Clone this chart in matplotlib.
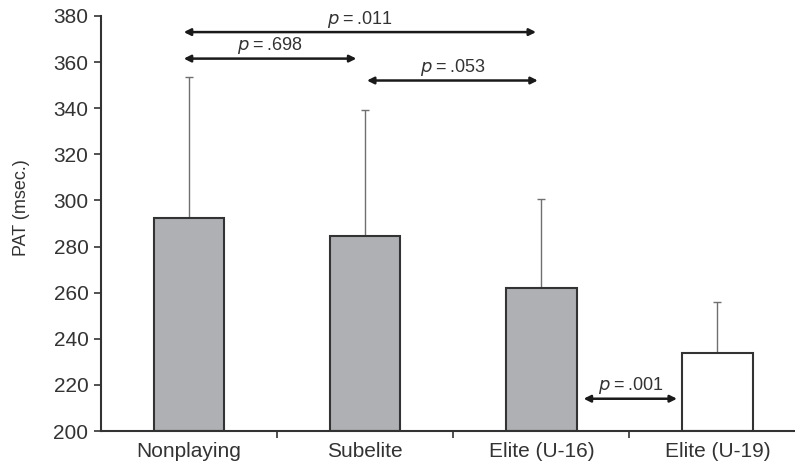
import matplotlib.pyplot as plt

plt.rcParams['font.family'] = ['Liberation Sans', 'DejaVu Sans']

# group means and upper SD ends
groups = ['Nonplaying', 'Subelite', 'Elite (U-16)', 'Elite (U-19)']
means = [292.5, 284.5, 262, 234]
sd = [61, 54.5, 38.5, 22]
fills = ['#afb0b3', '#afb0b3', '#afb0b3', 'white']

# comparisons: (from, to, y, label)
comparisons = [
    (-0.03, 1.97, 373, '.011'),
    (-0.03, 0.95, 361.5, '.698'),
    (1.01, 1.98, 352, '.053'),
    (2.24, 2.77, 214, '.001'),
]

ink = '#333333'

fig = plt.figure(figsize=(7.95, 4.69), dpi=100)
ax = fig.add_axes([0.127, 0.081, 0.873, 0.885])

x = list(range(len(groups)))
ax.bar(x, [m - 200 for m in means], bottom=200, width=0.4,
       color=fills, edgecolor=ink, linewidth=1.5, zorder=2)
ax.errorbar(x, means, yerr=[[0] * 4, sd], fmt='none', ecolor='#707070',
            elinewidth=1, capsize=3, capthick=1, zorder=1)

for x0, x1, y, lab in comparisons:
    ax.annotate('', xy=(x1, y), xytext=(x0, y),
                arrowprops=dict(arrowstyle='<|-|>', color='#1a1a1a', lw=1.8,
                                mutation_scale=10, shrinkA=0, shrinkB=0))
    ax.text((x0 + x1) / 2, y + 3.6, r'$\it{p}$' + '\u2009=\u2009' + lab,
            ha='center', va='baseline', fontsize=13, color=ink)

ax.set_xlim(-0.5, 3.44)
ax.set_ylim(200, 380)
ax.set_yticks(range(200, 381, 20))
ax.set_xticks(x)
ax.set_xticklabels(groups)
ax.set_xticks([0.5, 1.5, 2.5], minor=True)
ax.tick_params(axis='x', which='major', length=0, pad=8, labelsize=15, labelcolor=ink)
ax.tick_params(axis='x', which='minor', length=5, width=1.2, color=ink)
ax.tick_params(axis='y', length=5, width=1.2, pad=4, color=ink, labelsize=15, labelcolor=ink)
ax.set_ylabel('PAT (msec.)', fontsize=13, color=ink)
ax.yaxis.set_label_coords(-0.102, 0.537)

for s in ['top', 'right']:
    ax.spines[s].set_visible(False)
for s in ['left', 'bottom']:
    ax.spines[s].set_color(ink)
    ax.spines[s].set_linewidth(1.5)

fig.savefig('out.png', dpi=100)
